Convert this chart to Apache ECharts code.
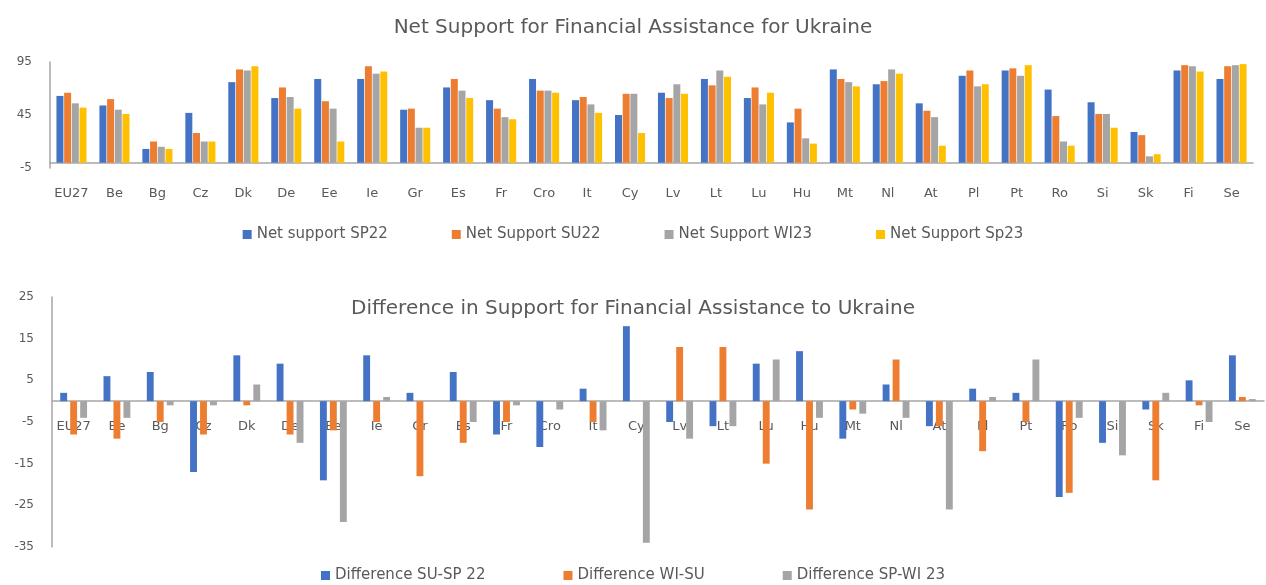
<!DOCTYPE html>
<html>
<head>
<meta charset="utf-8">
<script src="https://cdn.jsdelivr.net/npm/echarts@6/dist/echarts.min.js"></script>
<style>
  html, body { margin: 0; padding: 0; background: #fff; }
  #chart { width: 1266px; height: 585px; }
</style>
</head>
<body>
<div id="chart"></div>
<script>
// countries
var countries = ['EU27', 'Be', 'Bg', 'Cz', 'Dk', 'De', 'Ee', 'Ie', 'Gr', 'Es', 'Fr', 'Cro', 'It', 'Cy', 'Lv',
  'Lt', 'Lu', 'Hu', 'Mt', 'Nl', 'At', 'Pl', 'Pt', 'Ro', 'Si', 'Sk', 'Fi', 'Se'];

// net support (top chart)
var netSP22 = [63, 54, 13, 47, 76, 61, 79, 79, 50, 71, 59, 79, 59, 45, 66, 79, 61, 38, 88, 74, 56, 82, 87, 69, 57, 29, 87, 79];
var netSU22 = [66, 60, 20, 28, 88, 71, 58, 91, 51, 79, 51, 68, 62, 65, 61, 73, 71, 51, 79, 77, 49, 87, 89, 44, 46, 26, 92, 91];
var netWI23 = [56, 50, 15, 20, 87, 62, 51, 84, 33, 68, 43, 68, 55, 65, 74, 87, 55, 23, 76, 88, 43, 72, 82, 20, 46, 6, 91, 92];
var netSp23 = [52, 46, 13, 20, 91, 51, 20, 86, 33, 61, 41, 66, 47, 28, 65, 81, 66, 18, 72, 84, 16, 74, 92, 16, 33, 8, 86, 93];

// differences (bottom chart)
var diffSUSP = [2, 6, 7, -17, 11, 9, -19, 11, 2, 7, -8, -11, 3, 18, -5, -6, 9, 12, -9, 4, -6, 3, 2, -23, -10, -2, 5, 11];
var diffWISU = [-8, -9, -5, -8, -1, -8, -7, -5, -18, -10, -5, 0, -5, 0, 13, 13, -15, -26, -2, 10, -6, -12, -5, -22, 0, -19, -1, 1];
var diffSPWI = [-4, -4, -1, -1, 4, -10, -29, 1, 0, -5, -1, -2, -7, -34, -9, -6, 10, -4, -3, -4, -26, 1, 10, -4, -13, 2, -5, 0.5];

var textColor = '#595959';
var fontName = 'DejaVu Sans';
var axisColor = '#A6A6A6';

var myChart = echarts.init(document.getElementById('chart'), null, {renderer: 'canvas'});

var option = {
  backgroundColor: '#fff',
  animation: false,
  color: ['#4472C4', '#ED7D31', '#A5A5A5', '#FFC000'],
  textStyle: {fontFamily: fontName, color: textColor},
  title: [
    {
      text: 'Net Support for Financial Assistance for Ukraine',
      left: 'center',
      top: 13,
      textStyle: {fontFamily: fontName, fontSize: 20, fontWeight: 'normal', color: textColor}
    },
    {
      text: 'Difference in Support for Financial Assistance to Ukraine',
      left: 'center',
      top: 294,
      textStyle: {fontFamily: fontName, fontSize: 20, fontWeight: 'normal', color: textColor}
    }
  ],
  legend: [
    {
      data: ['Net support SP22', 'Net Support SU22', 'Net Support WI23', 'Net Support Sp23'],
      top: 222,
      left: 'center',
      itemWidth: 9,
      itemHeight: 9,
      itemGap: 64,
      icon: 'rect',
      textStyle: {fontFamily: fontName, fontSize: 15, color: textColor}
    },
    {
      data: ['Difference SU-SP 22', 'Difference WI-SU', 'Difference SP-WI 23'],
      top: 563,
      left: 'center',
      itemWidth: 9,
      itemHeight: 9,
      itemGap: 78,
      icon: 'rect',
      textStyle: {fontFamily: fontName, fontSize: 15, color: textColor}
    }
  ],
  grid: [
    {left: 50, right: 13, top: 62, height: 106},
    {left: 52, right: 2, top: 297, height: 250}
  ],
  xAxis: [
    {
      type: 'category',
      gridIndex: 0,
      data: countries,
      axisTick: {show: false},
      axisLine: {lineStyle: {color: axisColor, width: 1.5}},
      axisLabel: {color: textColor, fontSize: 13, margin: 19, interval: 0}
    },
    {
      type: 'category',
      gridIndex: 1,
      data: countries,
      axisTick: {show: false},
      axisLine: {onZero: true, lineStyle: {color: axisColor, width: 1.5}},
      // labels sit just under the zero line, as in the source
      axisLabel: {color: textColor, fontSize: 13, margin: -127, interval: 0}
    }
  ],
  yAxis: [
    {
      type: 'value',
      gridIndex: 0,
      min: -5,
      max: 95,
      interval: 50,
      splitLine: {show: false},
      axisLine: {show: true, lineStyle: {color: axisColor, width: 1.5}},
      axisLabel: {color: textColor, fontSize: 12, margin: 18}
    },
    {
      type: 'value',
      gridIndex: 1,
      min: -35,
      max: 25,
      interval: 10,
      splitLine: {show: false},
      axisLine: {show: true, lineStyle: {color: axisColor, width: 1.5}},
      axisLabel: {color: textColor, fontSize: 12, margin: 18}
    }
  ],
  series: [
    {name: 'Net support SP22', type: 'bar', xAxisIndex: 0, yAxisIndex: 0, data: netSP22, barGap: '10%', barCategoryGap: '30%', color: '#4472C4'},
    {name: 'Net Support SU22', type: 'bar', xAxisIndex: 0, yAxisIndex: 0, data: netSU22, color: '#ED7D31'},
    {name: 'Net Support WI23', type: 'bar', xAxisIndex: 0, yAxisIndex: 0, data: netWI23, color: '#A5A5A5'},
    {name: 'Net Support Sp23', type: 'bar', xAxisIndex: 0, yAxisIndex: 0, data: netSp23, color: '#FFC000'},
    {name: 'Difference SU-SP 22', type: 'bar', xAxisIndex: 1, yAxisIndex: 1, data: diffSUSP, barGap: '45%', barCategoryGap: '38%', color: '#4472C4'},
    {name: 'Difference WI-SU', type: 'bar', xAxisIndex: 1, yAxisIndex: 1, data: diffWISU, color: '#ED7D31'},
    {name: 'Difference SP-WI 23', type: 'bar', xAxisIndex: 1, yAxisIndex: 1, data: diffSPWI, color: '#A5A5A5'}
  ]
};

myChart.setOption(option);
</script>
</body>
</html>
